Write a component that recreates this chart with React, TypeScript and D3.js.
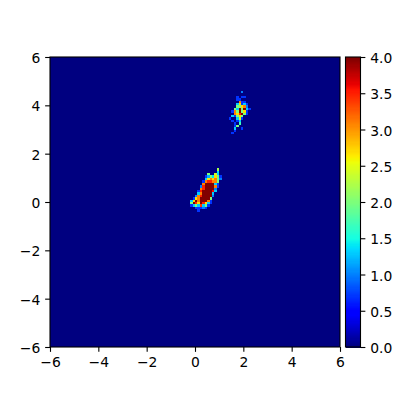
import React, { useEffect, useRef } from 'react';
import * as d3 from 'd3';

// histogram bins: 120 x 120 over [-6, 6], everything not listed below is 0
const binCount = 120;
const xTicks = [-6, -4, -2, 0, 2, 4, 6];
const yTicks = [-6, -4, -2, 0, 2, 4, 6];
const colorTicks = [0, 0.5, 1, 1.5, 2, 2.5, 3, 3.5, 4];

// [row from bottom, first column, values...]
const lowerCluster: number[][] = [
  [73, 69, 2.2],
  [72, 69, 1.4],
  [71, 65, 2, 0, 0, 2.4, 1.3],
  [70, 64, 0.7, 1.2, 2, 1.4, 2.7, 2, 0.7],
  [69, 64, 1.3, 2.7, 3.1, 2.7, 3.1, 2, 1],
  [68, 63, 0.7, 3.1, 3.5, 3.5, 3.1, 3.1, 2],
  [67, 63, 3.1, 4, 4, 4, 4, 1.3, 0.7],
  [66, 62, 1, 3.5, 4, 4, 4, 4, 3.1, 0.7],
  [65, 62, 3.1, 3.5, 4, 4, 4, 4, 1],
  [64, 61, 0.7, 3.5, 4, 4, 4, 4, 3.6, 1.3],
  [63, 61, 1.3, 3.1, 4, 4, 4, 4, 1.3],
  [62, 60, 1, 3.1, 3.5, 4, 4, 4, 4, 1],
  [61, 59, 0.7, 2.7, 3.1, 4, 4, 4, 4, 2],
  [60, 58, 1.3, 2.7, 4, 3.1, 4, 4, 4, 3.1, 0.7],
  [59, 58, 2, 4, 3.5, 2.7, 4, 3.5, 2.7, 1.3, 0.7],
  [58, 58, 0.7, 1.3, 2, 1.3, 3.4, 1.3, 2, 0.7],
  [57, 60, 0.7, 0.7, 0.7, 1, 0.7],
  [56, 61, 0.7],
];

const upperCluster: number[][] = [
  [105, 79, 1],
  [103, 77, 0.7, 0, 0.7, 0.7],
  [102, 77, 0.7, 0.7],
  [101, 78, 3.1, 0.7, 0.7],
  [100, 77, 1.3, 2.7, 0.7, 1.3, 0.7],
  [99, 77, 2, 2, 2.7, 3.1, 1],
  [98, 76, 2, 1.3, 4, 2, 4, 1.3, 0.7],
  [97, 75, 0.7, 3.1, 2, 4, 2, 2.7, 0.7],
  [96, 76, 3.1, 2.7, 3.5, 4, 2, 0.7],
  [95, 75, 1.3, 0.7, 2, 2.7, 2],
  [94, 74, 0.7, 0, 0, 1.3, 2.4, 0.7],
  [93, 75, 0.7, 0, 0.7, 1.3],
  [92, 76, 0.7, 0, 1.7],
  [91, 76, 0.7, 2],
  [90, 76, 1.3, 0, 0, 0.7],
  [89, 76, 0.7],
  [88, 75, 0.7],
];

const red = d3.scaleLinear([0, 0.35, 0.66, 0.89, 1], [0, 0, 1, 1, 0.5]);
const green = d3.scaleLinear([0, 0.125, 0.375, 0.64, 0.91, 1], [0, 0, 1, 1, 0, 0]);
const blue = d3.scaleLinear([0, 0.11, 0.34, 0.65, 1], [0.5, 1, 1, 0, 0]);
const jet = (t: number) =>
  d3.rgb(red(t) * 255, green(t) * 255, blue(t) * 255).formatHex();

const App = () => {
  const svgRef = useRef<SVGSVGElement>(null);

  useEffect(() => {
    const svg = d3.select(svgRef.current);
    svg.selectAll('*').remove();

    const x = d3.scaleLinear().domain([-6, 6]).range([50, 340]);
    const y = d3.scaleLinear().domain([-6, 6]).range([347, 57]);
    const c = d3.scaleLinear().domain([0, 4]).range([347, 57]);
    const binWidth = 12 / binCount;

    svg
      .append('rect')
      .attr('x', x(-6))
      .attr('y', y(6))
      .attr('width', x(6) - x(-6))
      .attr('height', y(-6) - y(6))
      .attr('fill', jet(0));

    const cells = [...lowerCluster, ...upperCluster].flatMap(([row, col, ...vals]) =>
      vals.map((v, i) => ({ row, col: col + i, v })).filter((d) => d.v > 0)
    );
    svg
      .append('g')
      .attr('shape-rendering', 'crispEdges')
      .selectAll('rect')
      .data(cells)
      .enter()
      .append('rect')
      .attr('x', (d) => x(-6 + d.col * binWidth))
      .attr('y', (d) => y(-6 + (d.row + 1) * binWidth))
      .attr('width', x(binWidth) - x(0))
      .attr('height', y(0) - y(binWidth))
      .attr('fill', (d) => jet(d.v / 4));

    // colorbar
    const levels = d3.range(256);
    svg
      .append('g')
      .attr('shape-rendering', 'crispEdges')
      .selectAll('rect')
      .data(levels)
      .enter()
      .append('rect')
      .attr('x', 345.5)
      .attr('y', (d) => c(((d + 1) / 256) * 4))
      .attr('width', 15)
      .attr('height', (d) => c((d / 256) * 4) - c(((d + 1) / 256) * 4) + 0.5)
      .attr('fill', (d) => jet(d / 255));

    // matplotlib sizes in points at dpi 100
    const tickLen = 4.86;
    const tickPad = 4.86;
    const styleAxis = (g: any) => {
      g.selectAll('.domain').remove();
      g.selectAll('line').attr('stroke', '#000').attr('stroke-width', 1.1);
      g.selectAll('text')
        .attr('fill', '#000')
        .style('font-family', '"DejaVu Sans"')
        .style('font-size', '13.89px');
    };
    const minus = (d: any) => String(d).replace('-', '\u2212');

    svg
      .append('g')
      .attr('transform', 'translate(0,347)')
      .call(d3.axisBottom(x).tickValues(xTicks).tickFormat(minus).tickSize(tickLen).tickPadding(tickPad))
      .call(styleAxis);
    svg
      .append('g')
      .attr('transform', 'translate(50,0)')
      .call(d3.axisLeft(y).tickValues(yTicks).tickFormat(minus).tickSize(tickLen).tickPadding(tickPad))
      .call(styleAxis)
      .call((g: any) => g.selectAll('text').attr('dy', '0.4em'));
    svg
      .append('g')
      .attr('transform', 'translate(360.5,0)')
      .call(d3.axisRight(c).tickValues(colorTicks).tickFormat(d3.format('.1f')).tickSize(tickLen).tickPadding(tickPad))
      .call(styleAxis)
      .call((g: any) => g.selectAll('text').attr('dy', '0.4em'));

    // spines
    svg
      .append('rect')
      .attr('x', x(-6))
      .attr('y', y(6))
      .attr('width', x(6) - x(-6))
      .attr('height', y(-6) - y(6))
      .attr('fill', 'none')
      .attr('stroke', '#000')
      .attr('stroke-width', 1.1);
    svg
      .append('rect')
      .attr('x', 345.5)
      .attr('y', c(4))
      .attr('width', 15)
      .attr('height', c(0) - c(4))
      .attr('fill', 'none')
      .attr('stroke', '#000')
      .attr('stroke-width', 1.1);
  }, []);

  return <svg ref={svgRef} width={400} height={400} style={{ position: 'absolute', left: 0, top: 0 }}></svg>;
};

export default App;
